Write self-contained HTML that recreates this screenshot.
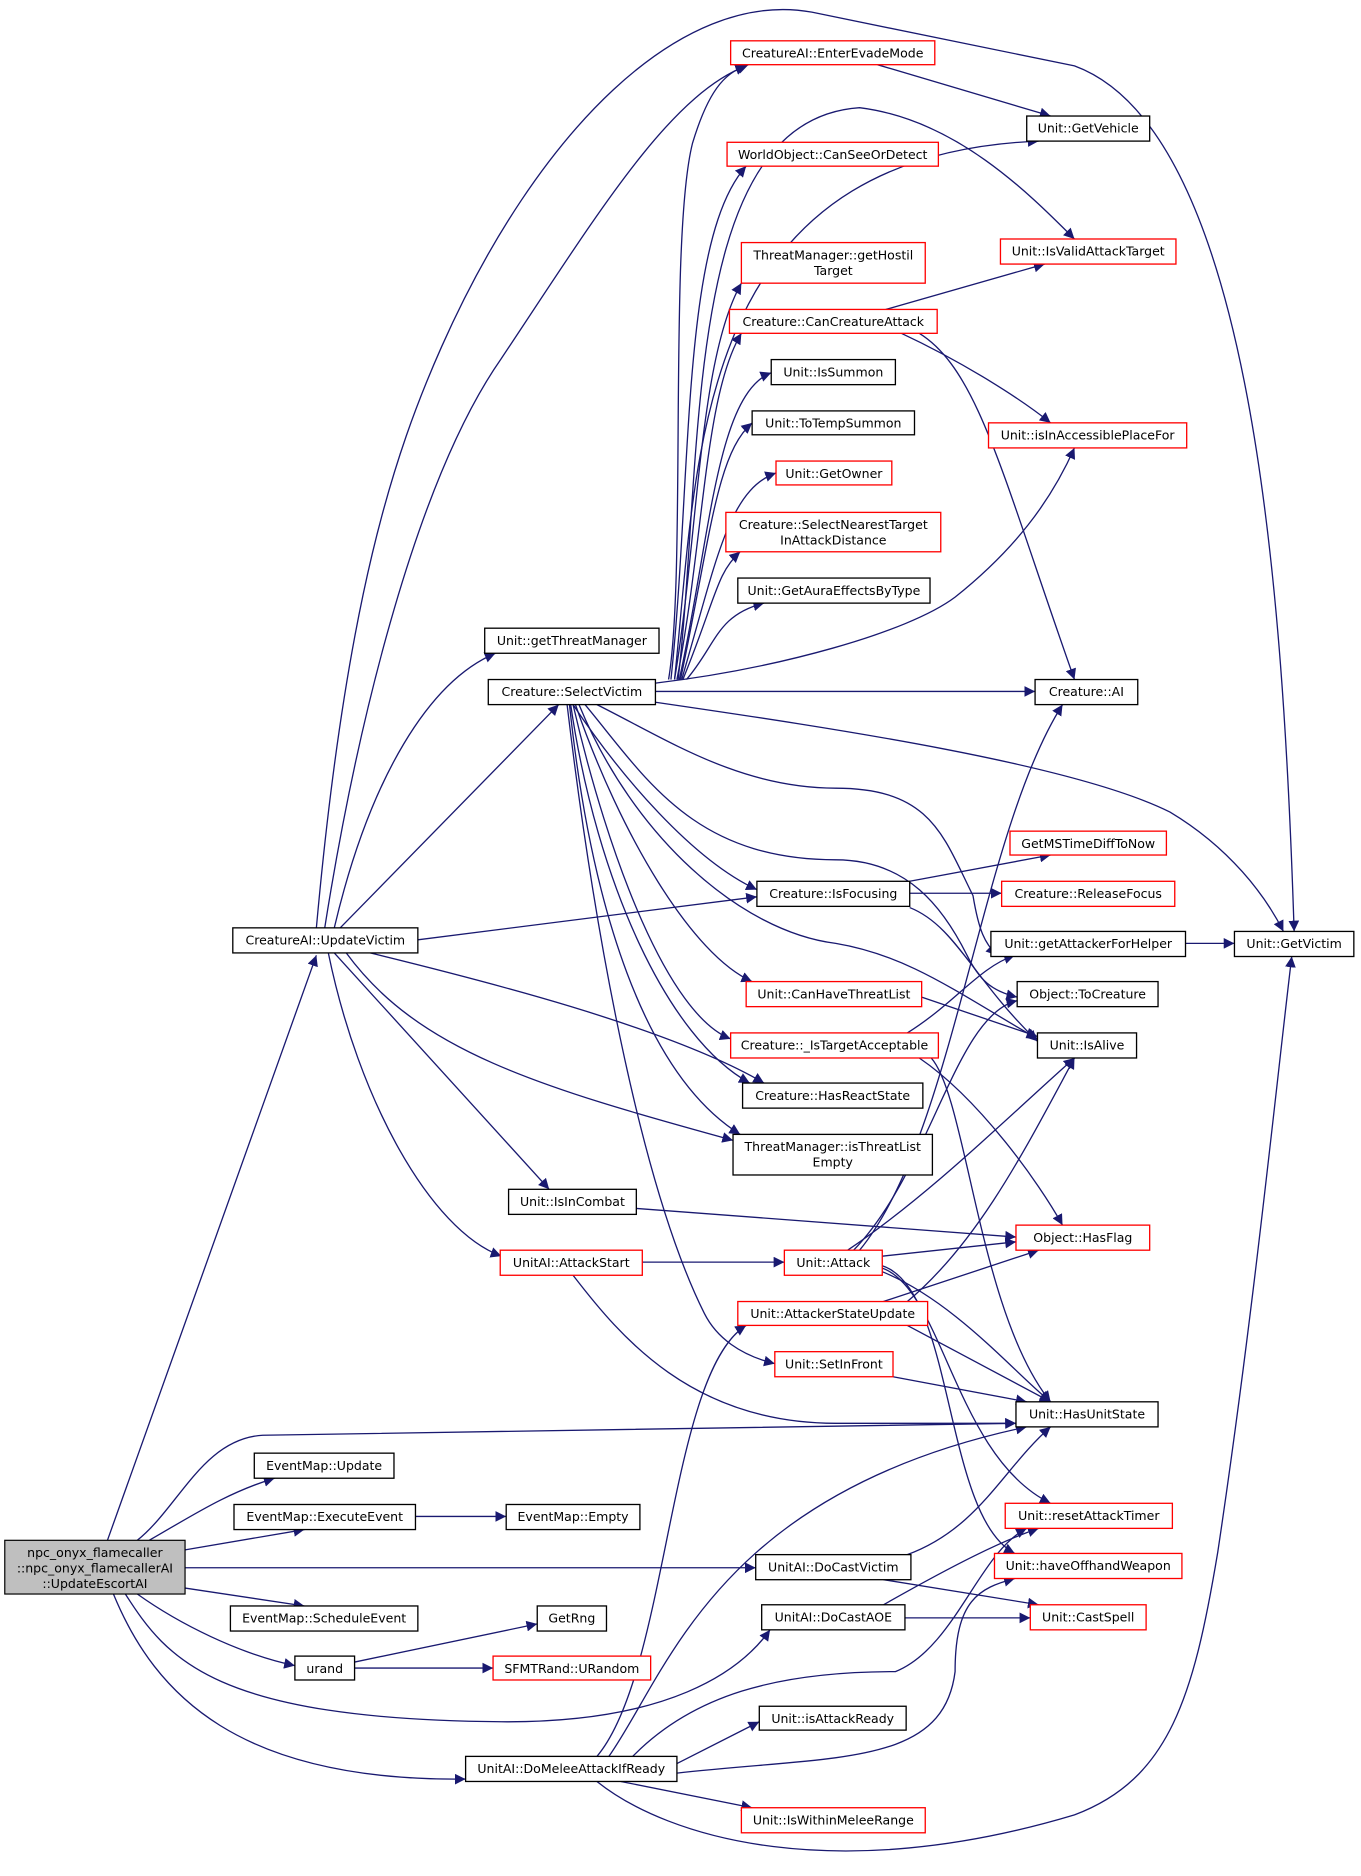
<!DOCTYPE html>
<html><head><meta charset="utf-8"><style>
html,body{margin:0;padding:0;background:#fff;}
svg{display:block;}
text{font-family:"DejaVu Sans","Liberation Sans",sans-serif;font-size:10.5px;fill:#000;}
.e{fill:none;stroke:#191970;stroke-width:1.1;}
.b{fill:#fff;stroke:#000;stroke-width:1.1;}
.r{fill:#fff;stroke:#ff0000;stroke-width:1.1;}
</style></head><body>
<svg width="1361" height="1876" viewBox="0 0 1140 1571" xmlns="http://www.w3.org/2000/svg">
<defs><marker id="a" viewBox="0 0 10 10" refX="10" refY="5" markerWidth="9" markerHeight="9" orient="auto" markerUnits="userSpaceOnUse"><path d="M0,0 L10,5 L0,10 z" fill="#191970"/></marker></defs>
<g class="e" marker-end="url(#a)">
<path d="M90,1290 L265,800"/>
<path d="M115,1290 C150,1262 170,1205 220,1202 L851,1192"/>
<path d="M125,1290 C160,1270 190,1250 230,1238"/>
<path d="M155,1298 L255,1281"/>
<path d="M155,1313 L633,1313"/>
<path d="M155,1330 L255,1345"/>
<path d="M115,1335 C150,1360 200,1385 247,1395"/>
<path d="M105,1335 C140,1390 180,1440 420,1442 C560,1443 620,1400 645,1365"/>
<path d="M95,1335 C130,1420 200,1492 390,1490"/>
<path d="M500,1492 C560,1540 700,1580 900,1520 C980,1490 1000,1420 1020,1300 C1050,1100 1070,900 1082,801"/>
<path d="M265,777 C290,500 330,380 370,290 C450,110 570,-10 680,10 C800,35 850,45 900,55 C1050,110 1075,500 1084,780"/>
<path d="M272,777 C300,600 350,400 420,300 C500,180 560,80 625,55"/>
<path d="M280,777 C310,650 360,570 415,547"/>
<path d="M285,777 L468,590"/>
<path d="M350,787 L634,751"/>
<path d="M310,798 C400,820 560,860 640,907"/>
<path d="M290,798 C350,880 450,910 614,955"/>
<path d="M280,798 L460,996"/>
<path d="M275,798 C300,920 360,1030 420,1052"/>
<path d="M560,569 C575,480 560,200 580,120 C595,70 610,60 627,54"/>
<path d="M565,569 C585,380 580,130 870,118"/>
<path d="M562,569 C580,400 570,200 625,139"/>
<path d="M568,569 C590,380 570,100 720,90 C800,100 860,160 900,200"/>
<path d="M565,569 C585,450 585,300 621,237"/>
<path d="M567,569 C590,450 590,330 621,279"/>
<path d="M569,569 C595,450 600,330 646,312"/>
<path d="M570,569 C595,450 600,380 630,354"/>
<path d="M571,569 C600,470 610,410 650,396"/>
<path d="M572,569 C600,500 600,480 620,462"/>
<path d="M575,569 C600,540 600,515 640,505"/>
<path d="M549,572 C650,560 760,530 800,500 C850,460 880,420 900,375"/>
<path d="M549,579 L867,579"/>
<path d="M549,588 C700,610 900,640 980,680 C1030,710 1060,750 1075,780"/>
<path d="M480,590 C520,650 580,720 634,745"/>
<path d="M500,590 C560,620 620,660 700,660 C780,660 790,700 815,750 C820,780 825,790 835,800"/>
<path d="M490,590 C540,650 580,720 700,720 C760,720 790,760 810,800 C820,820 830,830 852,835"/>
<path d="M485,590 C530,700 620,780 700,790 C760,800 800,830 869,870"/>
<path d="M482,590 C520,700 580,800 630,822"/>
<path d="M480,590 C510,720 560,850 612,870"/>
<path d="M478,590 C500,740 560,870 628,907"/>
<path d="M477,590 C495,760 540,900 620,950"/>
<path d="M475,590 C500,800 540,1000 590,1100 C600,1120 620,1135 649,1142"/>
<path d="M735,54 L880,97"/>
<path d="M742,259 L875,221"/>
<path d="M755,279 C800,300 850,330 880,354"/>
<path d="M770,279 C820,310 840,400 900,569"/>
<path d="M762,738 L880,716"/>
<path d="M762,748 L839,748"/>
<path d="M762,760 C800,775 815,820 869,872"/>
<path d="M993,790 L1034,790"/>
<path d="M772,835 L869,868"/>
<path d="M760,865 C800,840 820,810 850,800"/>
<path d="M770,886 C820,920 870,990 890,1026"/>
<path d="M780,886 C810,920 820,1100 880,1174"/>
<path d="M533,1012 L851,1036"/>
<path d="M538,1057 L657,1057"/>
<path d="M480,1068 C520,1120 580,1192 700,1192 L851,1192"/>
<path d="M739,1052 L851,1040"/>
<path d="M720,1047 C800,950 820,700 890,590"/>
<path d="M715,1047 C780,980 800,850 852,838"/>
<path d="M710,1047 C780,1000 850,930 900,886"/>
<path d="M739,1065 C800,1090 850,1150 880,1174"/>
<path d="M739,1062 C790,1080 800,1220 880,1259"/>
<path d="M739,1060 C800,1080 790,1270 850,1301"/>
<path d="M740,1090 L870,1047"/>
<path d="M760,1090 C820,1040 860,960 900,886"/>
<path d="M760,1110 L880,1174"/>
<path d="M748,1153 L860,1174"/>
<path d="M348,1270 L424,1270"/>
<path d="M297,1392 L450,1360"/>
<path d="M297,1397 L413,1397"/>
<path d="M760,1302 C820,1280 840,1230 880,1195"/>
<path d="M740,1323 L870,1344"/>
<path d="M758,1355 L863,1355"/>
<path d="M740,1344 C800,1310 840,1290 870,1280"/>
<path d="M500,1471 C560,1400 560,1150 625,1110"/>
<path d="M510,1471 C560,1400 600,1250 860,1195"/>
<path d="M567,1477 L636,1442"/>
<path d="M520,1492 L630,1514"/>
<path d="M567,1485 C700,1470 790,1480 800,1400 C800,1340 820,1330 850,1322"/>
<path d="M530,1471 C580,1420 650,1400 750,1400 C800,1380 820,1300 860,1280"/>
</g>
<g>
<rect x="4" y="1290" width="151" height="45" fill="#bfbfbf" stroke="#000"/>
<text x="79.5" y="1304" text-anchor="middle">npc_onyx_flamecaller</text>
<text x="79.5" y="1317" text-anchor="middle">::npc_onyx_flamecallerAI</text>
<text x="79.5" y="1330" text-anchor="middle">::UpdateEscortAI</text>
</g>
<g text-anchor="middle">
<rect class="b" x="195" y="777" width="155" height="21"/><text x="272.5" y="791">CreatureAI::UpdateVictim</text>
<rect class="b" x="406" y="526" width="146" height="21"/><text x="479" y="540">Unit::getThreatManager</text>
<rect class="b" x="409" y="569" width="140" height="21"/><text x="479" y="583">Creature::SelectVictim</text>
<rect class="r" x="612" y="34" width="171" height="20"/><text x="697.5" y="48">CreatureAI::EnterEvadeMode</text>
<rect class="b" x="860" y="97" width="103" height="21"/><text x="911.5" y="111">Unit::GetVehicle</text>
<rect class="r" x="609" y="119" width="177" height="20"/><text x="697.5" y="133">WorldObject::CanSeeOrDetect</text>
<rect class="r" x="621" y="203" width="154" height="34"/><text x="698" y="217">ThreatManager::getHostil</text><text x="698" y="230">Target</text>
<rect class="r" x="838" y="200" width="147" height="21"/><text x="911.5" y="214">Unit::IsValidAttackTarget</text>
<rect class="r" x="611" y="259" width="174" height="20"/><text x="698" y="273">Creature::CanCreatureAttack</text>
<rect class="b" x="646" y="301" width="104" height="21"/><text x="698" y="315">Unit::IsSummon</text>
<rect class="b" x="630" y="344" width="136" height="20"/><text x="698" y="358">Unit::ToTempSummon</text>
<rect class="r" x="650" y="386" width="97" height="20"/><text x="698.5" y="400">Unit::GetOwner</text>
<rect class="r" x="608" y="429" width="180" height="33"/><text x="698" y="443">Creature::SelectNearestTarget</text><text x="698" y="456">InAttackDistance</text>
<rect class="b" x="618" y="484" width="161" height="21"/><text x="698.5" y="498">Unit::GetAuraEffectsByType</text>
<rect class="r" x="828" y="354" width="166" height="21"/><text x="911" y="368">Unit::isInAccessiblePlaceFor</text>
<rect class="b" x="867" y="569" width="86" height="21"/><text x="910" y="583">Creature::AI</text>
<rect class="r" x="846" y="696" width="131" height="20"/><text x="911.5" y="710">GetMSTimeDiffToNow</text>
<rect class="r" x="839" y="738" width="145" height="21"/><text x="911.5" y="752">Creature::ReleaseFocus</text>
<rect class="b" x="634" y="738" width="128" height="21"/><text x="698" y="752">Creature::IsFocusing</text>
<rect class="b" x="830" y="780" width="163" height="21"/><text x="911.5" y="794">Unit::getAttackerForHelper</text>
<rect class="b" x="1034" y="780" width="100" height="21"/><text x="1084" y="794">Unit::GetVictim</text>
<rect class="b" x="852" y="822" width="118" height="21"/><text x="911" y="836">Object::ToCreature</text>
<rect class="r" x="625" y="822" width="147" height="21"/><text x="698.5" y="836">Unit::CanHaveThreatList</text>
<rect class="b" x="869" y="865" width="83" height="21"/><text x="910.5" y="879">Unit::IsAlive</text>
<rect class="r" x="612" y="865" width="174" height="21"/><text x="699" y="879">Creature::_IsTargetAcceptable</text>
<rect class="b" x="622" y="907" width="151" height="21"/><text x="697.5" y="921">Creature::HasReactState</text>
<rect class="b" x="614" y="950" width="167" height="34"/><text x="697.5" y="964">ThreatManager::isThreatList</text><text x="697.5" y="977">Empty</text>
<rect class="b" x="426" y="996" width="107" height="21"/><text x="479.5" y="1010">Unit::IsInCombat</text>
<rect class="r" x="851" y="1026" width="112" height="21"/><text x="907" y="1040">Object::HasFlag</text>
<rect class="r" x="419" y="1047" width="119" height="21"/><text x="478.5" y="1061">UnitAI::AttackStart</text>
<rect class="r" x="657" y="1047" width="82" height="21"/><text x="698" y="1061">Unit::Attack</text>
<rect class="r" x="618" y="1090" width="159" height="20"/><text x="697.5" y="1104">Unit::AttackerStateUpdate</text>
<rect class="r" x="649" y="1132" width="99" height="21"/><text x="698.5" y="1146">Unit::SetInFront</text>
<rect class="b" x="851" y="1174" width="119" height="21"/><text x="910.5" y="1188">Unit::HasUnitState</text>
<rect class="b" x="213" y="1217" width="117" height="21"/><text x="271.5" y="1231">EventMap::Update</text>
<rect class="b" x="196" y="1260" width="152" height="21"/><text x="272" y="1274">EventMap::ExecuteEvent</text>
<rect class="b" x="424" y="1260" width="112" height="21"/><text x="480" y="1274">EventMap::Empty</text>
<rect class="r" x="842" y="1259" width="140" height="21"/><text x="912" y="1273">Unit::resetAttackTimer</text>
<rect class="b" x="633" y="1302" width="130" height="21"/><text x="698" y="1316">UnitAI::DoCastVictim</text>
<rect class="r" x="833" y="1301" width="157" height="21"/><text x="911.5" y="1315">Unit::haveOffhandWeapon</text>
<rect class="b" x="193" y="1345" width="157" height="21"/><text x="271.5" y="1359">EventMap::ScheduleEvent</text>
<rect class="b" x="450" y="1345" width="58" height="21"/><text x="479" y="1359">GetRng</text>
<rect class="b" x="638" y="1344" width="120" height="21"/><text x="698" y="1358">UnitAI::DoCastAOE</text>
<rect class="r" x="863" y="1344" width="97" height="21"/><text x="911.5" y="1358">Unit::CastSpell</text>
<rect class="b" x="247" y="1387" width="50" height="20"/><text x="272" y="1401">urand</text>
<rect class="r" x="413" y="1387" width="132" height="20"/><text x="479" y="1401">SFMTRand::URandom</text>
<rect class="b" x="636" y="1429" width="123" height="20"/><text x="697.5" y="1443">Unit::isAttackReady</text>
<rect class="b" x="390" y="1471" width="177" height="21"/><text x="478.5" y="1485">UnitAI::DoMeleeAttackIfReady</text>
<rect class="r" x="621" y="1514" width="154" height="21"/><text x="698" y="1528">Unit::IsWithinMeleeRange</text>
</g>
</svg>
</body></html>
